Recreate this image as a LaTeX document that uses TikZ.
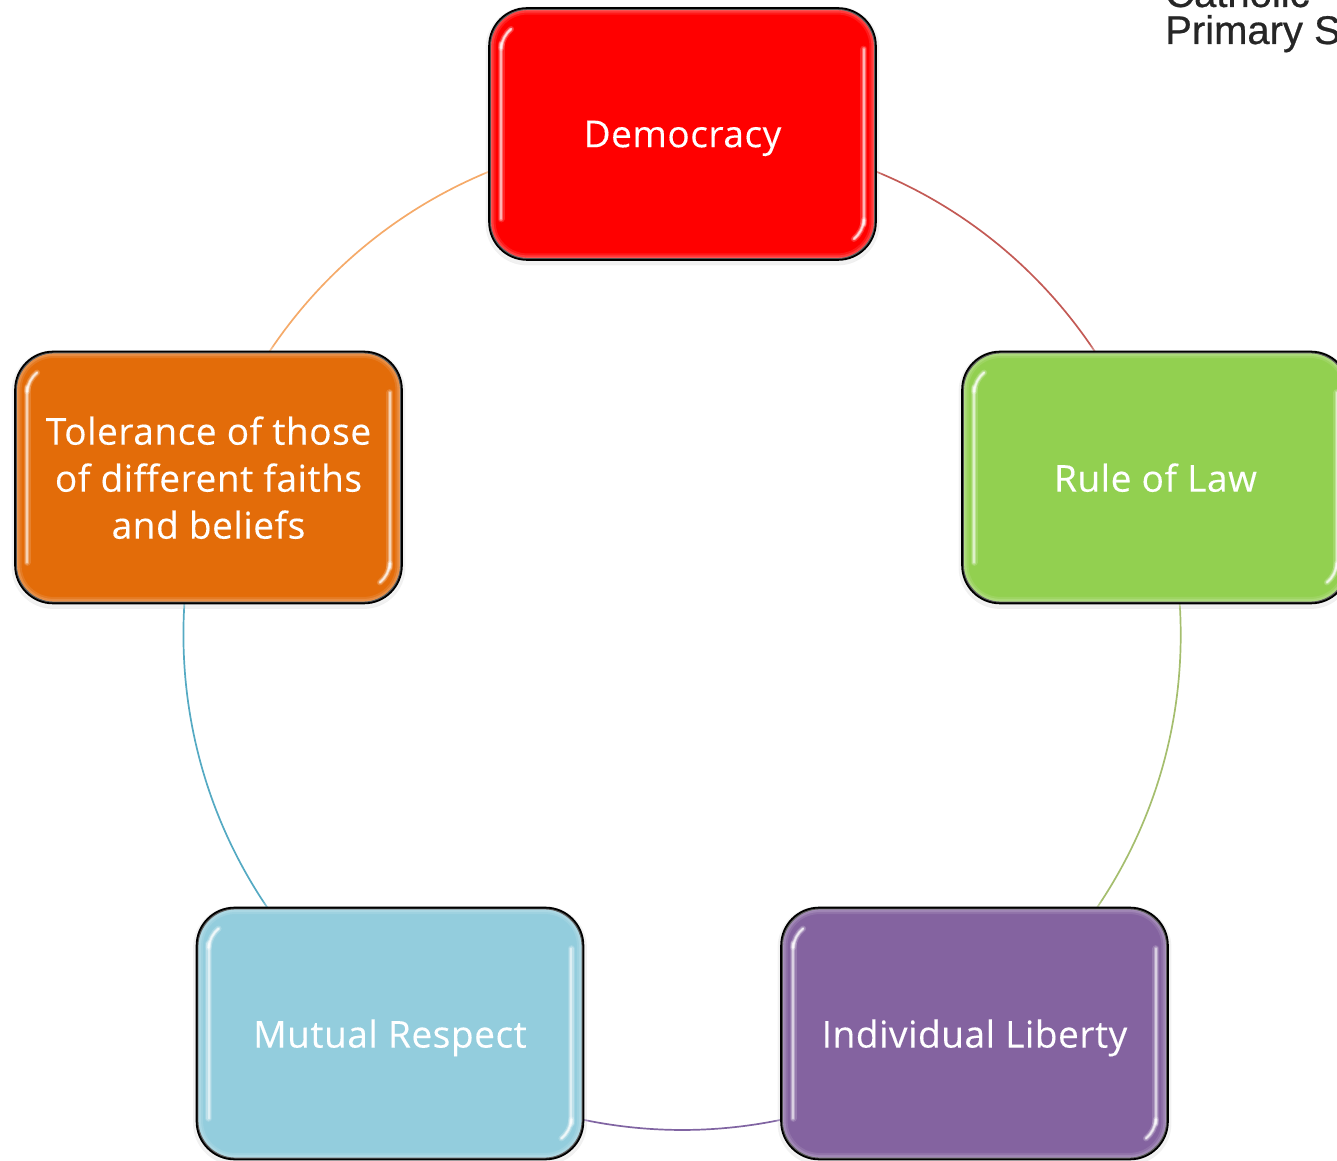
\documentclass[tikz,border=0pt]{standalone}
\usepackage{fontspec}
\setmainfont[LetterSpace=1.5,FakeBold=0.25]{Open Sans}
\newfontfamily\logofont[FakeBold=0.6]{Liberation Sans}
\usetikzlibrary{backgrounds}
\definecolor{cRed}{HTML}{FF0000}
\definecolor{cGreen}{HTML}{92D050}
\definecolor{cOrange}{HTML}{E36C09}
\definecolor{cBlue}{HTML}{93CDDD}
\definecolor{cPurple}{HTML}{8463A0}
\tikzset{
  valuebox/.style={draw=black,line width=1.8pt,rounded corners=38pt,minimum width=385pt,minimum height=250pt,
    align=center,text=white,inner sep=0pt,text depth=0pt,font=\fontsize{37}{47}\selectfont},
  ringarc/.style={line width=1.7pt,bend left=36,looseness=0.96},
  glossband/.style={white,line cap=round},
  logotext/.style={anchor=base west,inner sep=0pt,text=black!85,font=\logofont\fontsize{40}{46}\selectfont},
}
\newcommand{\glossbox}[1]{%
  % faint drop shadow
  \begin{scope}[on background layer]
    \draw[black,opacity=.07,line width=7pt,rounded corners=38pt]
      ([yshift=-2pt]#1.north west) rectangle ([yshift=-2pt]#1.south east);
  \end{scope}
  % soft rim just inside the outline, lighter towards the edge
  \foreach \w/\o in {13/.10,9/.14,5/.18}{
    \draw[white,opacity=\o,line width=\w pt,rounded corners=38pt]
      (#1.north west) rectangle (#1.south east);
  }
  % side highlights, layered to look blurred
  \foreach \w/\o in {7/.15,4.5/.3,2/.5}{
    \draw[glossband,line width=\w pt,opacity=\o]
      ([xshift=12pt,yshift=-36pt]#1.north west) -- ([xshift=12pt,yshift=41pt]#1.south west);
    \draw[glossband,line width=\w pt,opacity=\o]
      ([xshift=-12pt,yshift=-41pt]#1.north east) -- ([xshift=-12pt,yshift=36pt]#1.south east);
  }
  % bright corner glints
  \foreach \w/\o in {6/.2,3.5/.4,1.8/.7}{
    \draw[glossband,line width=\w pt,opacity=\o]
      ([xshift=12pt,yshift=-40pt]#1.north west) .. controls ([xshift=13pt,yshift=-32pt]#1.north west) and ([xshift=16pt,yshift=-26pt]#1.north west) .. ([xshift=22pt,yshift=-21pt]#1.north west);
    \draw[glossband,line width=\w pt,opacity=\o]
      ([xshift=-12pt,yshift=40pt]#1.south east) .. controls ([xshift=-13pt,yshift=32pt]#1.south east) and ([xshift=-16pt,yshift=26pt]#1.south east) .. ([xshift=-22pt,yshift=21pt]#1.south east);
  }
  % outline again, over the rim
  \draw[black,line width=1.8pt,rounded corners=38pt]
    (#1.north west) rectangle (#1.south east);
}
\begin{document}
\begin{tikzpicture}[x=1pt,y=1pt]
\useasboundingbox (0,0) rectangle (1337,1160);
\node[valuebox,fill=cRed] (dem) at (682.5,1026) {Democracy};
\node[valuebox,fill=cGreen] (law) at (1155.5,682.5) {Rule of Law};
\node[valuebox,fill=cPurple] (ind) at (974.5,126.5) {Individual Liberty};
\node[valuebox,fill=cBlue] (mut) at (390,126.5) {Mutual Respect};
\node[valuebox,fill=cOrange] (tol) at (208.5,682.5) {Tolerance of those\\of different faiths\\and beliefs};
\glossbox{dem}\glossbox{law}\glossbox{ind}\glossbox{mut}\glossbox{tol}
\begin{scope}[on background layer]
  \draw[ringarc,color={rgb,255:red,195;green,90;blue,85}] (dem.center) to (law.center);
  \draw[ringarc,color={rgb,255:red,165;green,190;blue,110}] (law.center) to (ind.center);
  \draw[ringarc,color={rgb,255:red,128;green,100;blue,162}] (ind.center) to (mut.center);
  \draw[ringarc,color={rgb,255:red,85;green,170;blue,195}] (mut.center) to (tol.center);
  \draw[ringarc,color={rgb,255:red,245;green,170;blue,105}] (tol.center) to (dem.center);
\end{scope}
\node[logotext] (logoa) at (1165,1153) {Catholic};
\node[logotext] (logob) at (1165,1116) {Primary School};
\end{tikzpicture}
\end{document}
